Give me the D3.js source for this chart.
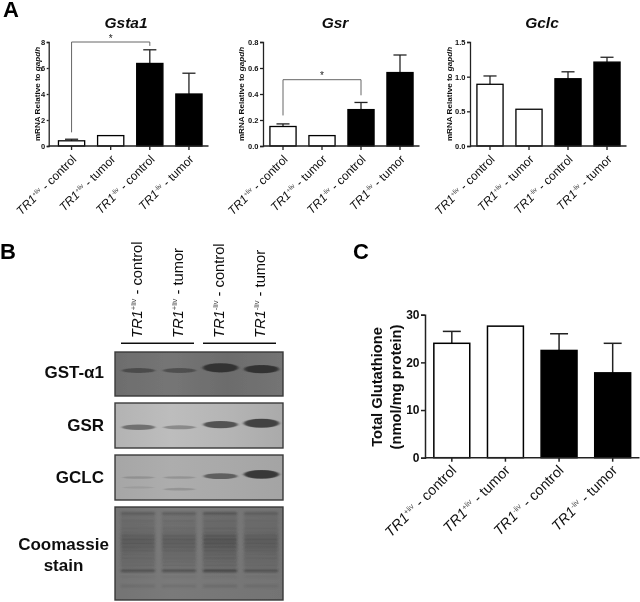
<!DOCTYPE html>
<html>
<head>
<meta charset="utf-8">
<script src="https://cdnjs.cloudflare.com/ajax/libs/d3/7.8.5/d3.min.js"></script>
<style>
body { margin: 0; background: #fff; }
svg { display: block; font-family: "Liberation Sans", Arial, sans-serif; }
</style>
</head>
<body>
<div id="fig"></div>
<script>
var groups = ["TR1|+liv| - control", "TR1|+liv| - tumor", "TR1|-liv| - control", "TR1|-liv| - tumor"];
var barFills = ["#fff", "#fff", "#000", "#000"];

// panel A, mRNA
var gsta1Values = [0.4, 0.8, 6.35, 4.0];
var gsta1Errors = [0.52, null, 7.4, 5.6];
var gsta1Ticks = [0, 2, 4, 6, 8];
var gsrValues = [0.15, 0.08, 0.28, 0.565];
var gsrErrors = [0.17, null, 0.335, 0.70];
var gsrTicks = [0, 0.2, 0.4, 0.6, 0.8];
var gclcValues = [0.89, 0.53, 0.97, 1.21];
var gclcErrors = [1.01, null, 1.07, 1.28];
var gclcTicks = [0, 0.5, 1, 1.5];

// panel C, total glutathione
var gshValues = [24, 27.6, 22.5, 17.8];
var gshErrors = [26.5, null, 26, 24];
var gshTicks = [0, 10, 20, 30];

// panel B, blots: [lane, migration % down the membrane, intensity 0-1]
var gstBands = [[0, 42, 0.45], [1, 42, 0.42], [2, 36, 1], [3, 39, 0.85]];
var gsrBands = [[0, 54, 0.5], [1, 54, 0.3], [2, 48, 0.75], [3, 45, 1]];
var gclcBands = [[0, 50, 0.12], [1, 50, 0.12], [2, 47, 0.55], [3, 43, 0.95],
                 [0, 72, 0.05], [1, 76, 0.12]];
var coomassieMigration = [7, 11, 15, 19, 23, 27, 31, 35, 39, 43, 47, 51, 55, 59, 63, 68.5, 75, 85];
var coomassieIntensity = [0.38, 0.14, 0.22, 0.18, 0.24, 0.24, 0.4, 0.46, 0.46, 0.42, 0.34, 0.26, 0.28, 0.22, 0.22, 0.55, 0.06, 0.14];
var coomassieLanes = [0.9, 0.9, 1.15, 0.85];

var w = 640, h = 602;
var page = d3.select("#fig").append("svg").attr("width", w).attr("height", h);
var defs = page.append("defs");

defs.append("filter").attr("id", "scan").attr("filterUnits", "userSpaceOnUse")
  .attr("x", 0).attr("y", 0).attr("width", w).attr("height", h)
  .append("feGaussianBlur").attr("stdDeviation", 0.35);
defs.append("filter").attr("id", "blur").attr("x", "-20%").attr("y", "-100%").attr("width", "140%").attr("height", "300%")
  .append("feGaussianBlur").attr("stdDeviation", "1.8 0.7");
defs.append("filter").attr("id", "soft").attr("x", "-10%").attr("y", "-200%").attr("width", "120%").attr("height", "500%")
  .append("feGaussianBlur").attr("stdDeviation", "1.6 1");

// the whole figure is a slightly soft scan
var svg = page.append("g").attr("filter", "url(#scan)");

function label(sel, t, size) {
  var p = t.split("|");
  sel.append("tspan").attr("font-style", "italic").text(p[0]);
  sel.append("tspan").attr("font-size", size * 0.52).attr("dy", -size * 0.36).attr("fill", "#444").text(p[1]);
  sel.append("tspan").attr("dy", size * 0.36).text(p[2]);
}

function barChart(o) {
  var g = svg.append("g");
  var x = d3.scaleBand().domain(groups).range([o.left, o.right]).paddingInner(0.33).paddingOuter(0.165);
  var y = d3.scaleLinear().domain([0, d3.max(o.ticks)]).range([o.bottom, o.top]);

  var rows = groups.map(function(d, i) { return {name: d, v: o.values[i], e: o.errors[i], fill: barFills[i]}; });

  // error bars go behind the bars
  var err = g.selectAll(".err").data(rows.filter(function(d) { return d.e != null; })).enter().append("g")
    .attr("stroke", "#222").attr("stroke-width", o.sw);
  err.append("line")
    .attr("x1", function(d) { return x(d.name) + x.bandwidth() / 2; })
    .attr("x2", function(d) { return x(d.name) + x.bandwidth() / 2; })
    .attr("y1", function(d) { return y(d.v); })
    .attr("y2", function(d) { return y(d.e); });
  err.append("line")
    .attr("x1", function(d) { return x(d.name) + x.bandwidth() * 0.25; })
    .attr("x2", function(d) { return x(d.name) + x.bandwidth() * 0.75; })
    .attr("y1", function(d) { return y(d.e); })
    .attr("y2", function(d) { return y(d.e); });

  g.selectAll("rect").data(rows).enter().append("rect")
    .attr("x", function(d) { return x(d.name); })
    .attr("width", x.bandwidth())
    .attr("y", function(d) { return y(d.v); })
    .attr("height", function(d) { return o.bottom - y(d.v); })
    .attr("fill", function(d) { return d.fill; })
    .attr("stroke", "#000").attr("stroke-width", o.sw);

  var yAxis = d3.axisLeft(y).tickValues(o.ticks).tickSize(o.yTick || o.tick).tickPadding(1.5).tickFormat(d3.format(o.fmt));
  var ya = g.append("g").attr("transform", "translate(" + o.axisX + ",0)").call(yAxis);
  ya.selectAll("text").attr("font-size", o.tickFont).attr("font-weight", "bold").attr("font-family", "Liberation Sans").attr("fill", "#111");
  ya.selectAll("line,path").attr("stroke", "#222").attr("stroke-width", o.sw);

  var xAxis = d3.axisBottom(x).tickSize(o.tick).tickFormat("");
  var xa = g.append("g").attr("transform", "translate(0," + o.bottom + ")").call(xAxis);
  xa.selectAll("line").attr("stroke", "#222").attr("stroke-width", o.sw);
  xa.select("path").remove();
  g.append("line").attr("x1", o.axisX).attr("x2", o.right).attr("y1", o.bottom).attr("y2", o.bottom)
    .attr("stroke", "#222").attr("stroke-width", o.sw);

  g.selectAll(".xl").data(groups).enter().append("text")
    .attr("text-anchor", "end").attr("font-size", o.labelFont).attr("fill", "#111")
    .attr("transform", function(d) {
      return "translate(" + (x(d) + x.bandwidth() / 2 + o.labelDx) + "," + (o.bottom + o.labelDy) + ") rotate(-45)";
    })
    .each(function(d) { label(d3.select(this), d, o.labelFont); });

  if (o.title) {
    g.append("text").attr("x", o.titleX).attr("y", 28).attr("text-anchor", "middle")
      .attr("font-size", 15.5).attr("font-weight", "bold").attr("font-style", "italic").attr("fill", "#111").text(o.title);
  }
  if (o.bracket) {
    var b = o.bracket, cx = function(i) { return x(groups[i]) + x.bandwidth() / 2; };
    g.append("path").attr("fill", "none").attr("stroke", "#666").attr("stroke-width", 1)
      .attr("d", d3.line()([[cx(b.from), y(b.fromV)], [cx(b.from), y(b.level)], [cx(b.to), y(b.level)], [cx(b.to), y(b.toV)]]));
    g.append("text").attr("x", (cx(b.from) + cx(b.to)) / 2).attr("y", y(b.level) - 0.5).attr("text-anchor", "middle")
      .attr("font-size", 10).attr("fill", "#222").text("*");
  }
  return g;
}

var aBase = {top: 42, bottom: 146, tick: 4, sw: 1.3, tickFont: 7.5, labelFont: 12, labelDx: 5.5, labelDy: 14};

var aLabel = function(t, xpos) {
  var s = svg.append("text").attr("transform", "translate(" + xpos + ",94) rotate(-90)").attr("text-anchor", "middle")
    .attr("font-size", 8.1).attr("font-weight", "bold").attr("fill", "#111");
  s.append("tspan").text("mRNA Relative to ");
  s.append("tspan").attr("font-style", "italic").text(t);
};

barChart(Object.assign({}, aBase, {left: 52, right: 208.5, axisX: 48.7, yTick: 2, values: gsta1Values, errors: gsta1Errors, ticks: gsta1Ticks, fmt: "d",
  title: "Gsta1", titleX: 126, bracket: {from: 0, to: 2, level: 8, fromV: 1.05, toV: 7.7}}));
barChart(Object.assign({}, aBase, {left: 263.5, right: 419.5, axisX: 263, yTick: 3, values: gsrValues, errors: gsrErrors, ticks: gsrTicks, fmt: ".1f",
  title: "Gsr", titleX: 335, bracket: {from: 0, to: 2, level: 0.51, fromV: 0.235, toV: 0.39}}));
barChart(Object.assign({}, aBase, {left: 470.5, right: 626.5, axisX: 470, yTick: 3, values: gclcValues, errors: gclcErrors, ticks: gclcTicks, fmt: ".1f",
  title: "Gclc", titleX: 542}));
aLabel("gapdh", 39.5);
aLabel("gapdh", 244);
aLabel("gapdh", 451.5);

barChart({top: 314.7, bottom: 457.7, left: 425, right: 639.5, axisX: 425, values: gshValues, errors: gshErrors, ticks: gshTicks, fmt: "d",
  tick: 4, sw: 1.5, tickFont: 12, labelFont: 14.3, labelDx: 5.5, labelDy: 13.5});

var c = svg.append("text").attr("text-anchor", "middle").attr("font-size", 14.7).attr("font-weight", "bold").attr("fill", "#111")
  .attr("transform", "translate(382,387) rotate(-90)");
c.append("tspan").attr("x", 0).attr("y", 0).text("Total Glutathione");
c.append("tspan").attr("x", 0).attr("y", 19).text("(nmol/mg protein)");

// panel letters
[["A", 3, 16.5], ["B", 0, 259], ["C", 353, 258.5]].forEach(function(d) {
  svg.append("text").attr("x", d[1]).attr("y", d[2]).attr("font-size", 22).attr("font-weight", "bold").attr("fill", "#000").text(d[0]);
});

// panel B
var lane = d3.scaleBand().domain(d3.range(4)).range([118, 282]);
var laneHeads = d3.scalePoint().domain(d3.range(4)).range([141.7, 264.5]);
var bandH = d3.scaleLinear().domain([0, 1]).range([0.9, 4.6]);

groups.forEach(function(d, i) {
  svg.append("text").attr("text-anchor", "start").attr("font-size", 14.7).attr("fill", "#111")
    .attr("transform", "translate(" + laneHeads(i) + ",338) rotate(-90)")
    .each(function() { label(d3.select(this), d, 14.7); });
});
[[0, 1], [2, 3]].forEach(function(p) {
  svg.append("line").attr("stroke", "#111").attr("stroke-width", 1.6).attr("y1", 343.3).attr("y2", 343.3)
    .attr("x1", lane(p[0]) + 3).attr("x2", lane(p[1]) + lane.bandwidth() - 6);
});

function blot(o) {
  var g = svg.append("g");
  var clipId = "clip" + o.id;
  defs.append("clipPath").attr("id", clipId).append("rect")
    .attr("x", 115).attr("y", o.y0).attr("width", 168).attr("height", o.y1 - o.y0);
  var grad = defs.append("linearGradient").attr("id", "bg" + o.id).attr("x1", 0).attr("x2", 1).attr("y1", 0).attr("y2", 0);
  o.bg.forEach(function(col, i) { grad.append("stop").attr("offset", i / (o.bg.length - 1)).attr("stop-color", col); });
  g.append("rect").attr("x", 115).attr("y", o.y0).attr("width", 168).attr("height", o.y1 - o.y0).attr("fill", "url(#bg" + o.id + ")");
  var y = d3.scaleLinear().domain([0, 100]).range([o.y0, o.y1]);
  var inner = g.append("g").attr("clip-path", "url(#" + clipId + ")");
  if (o.bands) {
    inner.selectAll("ellipse").data(o.bands).enter().append("ellipse")
      .attr("filter", "url(#blur)")
      .attr("cx", function(d) { return lane(d[0]) + lane.bandwidth() / 2; })
      .attr("cy", function(d) { return y(d[1]); })
      .attr("rx", function(d) { return lane.bandwidth() * (0.38 + d[2] * 0.05); })
      .attr("ry", function(d) { return bandH(d[2]); })
      .attr("fill", o.ink)
      .attr("opacity", function(d) { return Math.min(0.9, d[2] * 0.7 + 0.3 * Math.sqrt(d[2])); });
  }
  if (o.rows) {
    d3.range(4).forEach(function(l) {
      inner.selectAll(".r" + l).data(o.rows).enter().append("rect")
        .attr("filter", "url(#soft)")
        .attr("x", lane(l) + 3).attr("width", lane.bandwidth() - 7)
        .attr("y", function(d) { return y(d[0]) - 1.4; }).attr("height", 2.8)
        .attr("fill", "#222")
        .attr("opacity", function(d) { return Math.min(1, d[1] * coomassieLanes[l]); });
    });
  }
  g.append("rect").attr("x", 115).attr("y", o.y0).attr("width", 168).attr("height", o.y1 - o.y0)
    .attr("fill", "none").attr("stroke", "#3a3a3a").attr("stroke-width", 1.4);
}

blot({id: "gst", y0: 352, y1: 396, bg: ["#6d6d6d", "#757575", "#6c6c6c", "#747474"], ink: "#2a2a2a", bands: gstBands});
blot({id: "gsr", y0: 403, y1: 448, bg: ["#b3b3b3", "#bdbdbd", "#b5b5b5", "#aaaaaa"], ink: "#383838", bands: gsrBands});
blot({id: "gclc", y0: 455, y1: 500, bg: ["#a6a6a6", "#adadad", "#a9a9a9", "#a4a4a4"], ink: "#2f2f2f", bands: gclcBands});
blot({id: "coo", y0: 507, y1: 600, bg: ["#747474", "#7a7a7a", "#777777", "#737373"],
  rows: coomassieMigration.map(function(m, i) { return [m, coomassieIntensity[i]]; })});

[["GST-α1", 104, 378], ["GSR", 104, 430.7], ["GCLC", 104, 482.7]].forEach(function(d) {
  svg.append("text").attr("x", d[1]).attr("y", d[2]).attr("text-anchor", "end")
    .attr("font-size", 17).attr("font-weight", "bold").attr("fill", "#111").text(d[0]);
});
[["Coomassie", 550], ["stain", 571]].forEach(function(d) {
  svg.append("text").attr("x", 63.5).attr("y", d[1]).attr("text-anchor", "middle")
    .attr("font-size", 17).attr("font-weight", "bold").attr("fill", "#111").text(d[0]);
});
</script>
</body>
</html>
